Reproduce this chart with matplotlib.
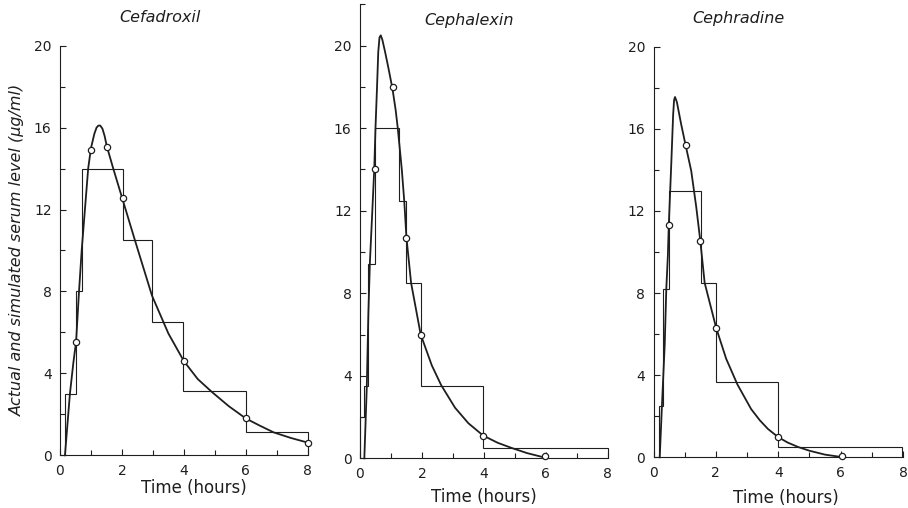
import matplotlib
matplotlib.use("Agg")
import matplotlib.pyplot as plt
from matplotlib.ticker import MultipleLocator

titles = ["Cefadroxil", "Cephalexin", "Cephradine"]

# observed serum levels (circles)
obs_t = [
    [0.52, 0.99, 1.51, 2.02, 4.0, 6.0, 8.0],
    [0.47, 1.05, 1.5, 1.97, 3.98, 5.98],
    [0.49, 1.03, 1.5, 2.01, 4.0, 6.03],
]
obs_y = [
    [5.55, 14.9, 15.05, 12.55, 4.6, 1.8, 0.62],
    [14.0, 18.0, 10.7, 6.0, 1.1, 0.1],
    [11.3, 15.2, 10.55, 6.3, 0.98, 0.08],
]

# simulated levels (stairs)
step_edges = [
    [0.17, 0.51, 0.7, 2.02, 2.97, 3.98, 6.0, 8.0],
    [0.0, 0.13, 0.27, 0.47, 1.27, 1.5, 1.97, 3.97, 8.0],
    [0.19, 0.31, 0.51, 1.52, 2.02, 3.98, 7.97],
]
step_vals = [
    [3.0, 8.0, 14.0, 10.5, 6.5, 3.15, 1.15],
    [2.0, 3.5, 9.4, 16.0, 12.45, 8.5, 3.5, 0.5],
    [2.5, 8.2, 12.95, 8.5, 3.65, 0.5],
]

# fitted curves
curve_t = [
    [0.16, 0.32, 0.43, 0.52, 0.61, 0.7, 0.81, 0.91, 1.0, 1.11, 1.18, 1.24, 1.3,
     1.37, 1.44, 1.51, 1.72, 2.02, 2.42, 2.97, 3.5, 4.0, 4.45, 4.9, 5.45, 6.0,
     6.45, 6.9, 7.45, 8.0],
    [0.14, 0.22, 0.27, 0.32, 0.37, 0.46, 0.5, 0.55, 0.59, 0.63, 0.67, 0.72,
     0.81, 0.92, 1.05, 1.15, 1.22, 1.35, 1.43, 1.5, 1.65, 1.96, 2.32, 2.62,
     3.07, 3.5, 3.98, 4.45, 4.9, 5.4, 5.98],
    [0.2, 0.27, 0.36, 0.41, 0.46, 0.49, 0.57, 0.63, 0.66, 0.69, 0.75, 0.89,
     1.03, 1.21, 1.37, 1.5, 1.64, 2.01, 2.33, 2.69, 3.13, 3.41, 3.67, 4.0,
     4.3, 4.64, 5.0, 5.5, 6.0],
]
curve_y = [
    [0.0, 3.0, 4.5, 5.55, 7.9, 10.0, 12.1, 14.0, 15.0, 15.7, 16.0, 16.1, 16.1,
     15.95, 15.6, 15.1, 14.0, 12.5, 10.5, 7.8, 5.95, 4.6, 3.72, 3.1, 2.4, 1.8,
     1.45, 1.12, 0.85, 0.62],
    [0.0, 3.5, 7.0, 9.5, 11.1, 14.0, 16.0, 18.0, 19.7, 20.4, 20.5, 20.3,
     19.7, 18.9, 17.9, 16.9, 16.0, 14.0, 12.45, 10.7, 8.5, 6.0, 4.5, 3.55,
     2.45, 1.7, 1.1, 0.75, 0.5, 0.25, 0.03],
    [0.0, 2.5, 5.5, 8.2, 9.8, 11.3, 14.3, 16.7, 17.4, 17.55, 17.3, 16.2,
     15.2, 13.95, 12.2, 10.55, 8.5, 6.3, 4.8, 3.55, 2.35, 1.8, 1.38, 0.98,
     0.72, 0.5, 0.32, 0.13, 0.02],
]

ymax = [20, 22, 20]

W, H = 908, 508
fig = plt.figure(figsize=(W / 100, H / 100), dpi=100)

# axes boxes in pixels: left, y of zero, width, y of ymax
boxes = [
    (60, 455.3, 247.7, 45.7),
    (360, 458.3, 247.7, 4.4),
    (653.5, 457.3, 249.5, 46.7),
]
title_xy = [(160, 17), (469, 21), (738, 19)]
xlabel_xy = [(194, 488), (484, 497), (786, 498)]

ink = "#1e1e1e"

for i in range(3):
    left, y0, w, ytop = boxes[i]
    ax = fig.add_axes([left / W, 1 - y0 / H, w / W, (y0 - ytop) / H])

    ax.stairs(step_vals[i], step_edges[i], baseline=0, color=ink, lw=0.8,
              clip_on=False)
    ax.plot(curve_t[i], curve_y[i], color=ink, lw=1.3, clip_on=False)
    ax.plot(obs_t[i], obs_y[i], "o", ms=4.5, mfc="white", mec=ink, mew=0.9,
            clip_on=False, zorder=5)

    ax.set_xlim(0, 8)
    ax.set_ylim(0, ymax[i])
    ax.xaxis.set_major_locator(MultipleLocator(2))
    ax.xaxis.set_minor_locator(MultipleLocator(1))
    ax.yaxis.set_major_locator(MultipleLocator(4))
    ax.yaxis.set_minor_locator(MultipleLocator(2))
    ax.tick_params(which="both", direction="in", color=ink, width=0.8,
                   labelsize=10, labelcolor=ink)
    ax.tick_params(which="major", length=4)
    ax.tick_params(which="minor", length=3.5)
    ax.tick_params(axis="x", pad=6)
    ax.tick_params(axis="y", pad=6)

    for s in ["top", "right"]:
        ax.spines[s].set_visible(False)
    for s in ["left", "bottom"]:
        ax.spines[s].set_color(ink)
        ax.spines[s].set_linewidth(0.8)

    tx, ty = title_xy[i]
    fig.text(tx / W, 1 - ty / H, titles[i], ha="center", va="center",
             fontsize=11.5, style="italic", color=ink)
    lx, ly = xlabel_xy[i]
    fig.text(lx / W, 1 - ly / H, "Time (hours)", ha="center", va="center",
             fontsize=12, color=ink)

fig.text(17 / W, 1 - 250 / H, "Actual and simulated serum level (μg/ml)",
         rotation=90, ha="center", va="center", fontsize=11.5,
         style="italic", color=ink)

fig.savefig("out.png", dpi=100)
